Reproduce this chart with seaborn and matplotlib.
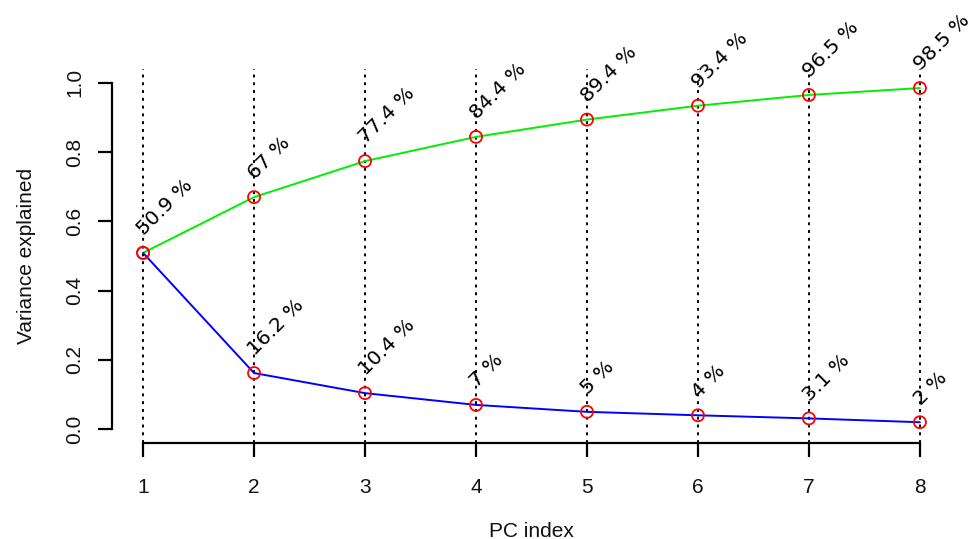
import numpy as np
import pandas as pd
import matplotlib
matplotlib.use("Agg")
import matplotlib.pyplot as plt
import seaborn as sns

## values
pc_index = [1, 2, 3, 4, 5, 6, 7, 8]
individual = [0.509, 0.162, 0.104, 0.070, 0.050, 0.040, 0.031, 0.020]
cumulative = [0.509, 0.670, 0.774, 0.844, 0.894, 0.934, 0.965, 0.985]
ind_labels = ["50.9 %", "16.2 %", "10.4 %", "7 %", "5 %", "4 %", "3.1 %", "2 %"]
cum_labels = ["50.9 %", "67 %", "77.4 %", "84.4 %", "89.4 %", "93.4 %", "96.5 %", "98.5 %"]
y_ticks = [0.0, 0.2, 0.4, 0.6, 0.8, 1.0]

df = pd.DataFrame({"pc": pc_index, "ind": individual, "cum": cumulative})

sns.set_style("white")
plt.rcParams["font.family"] = ["Liberation Sans", "DejaVu Sans"]

fig = plt.figure(figsize=(9.79, 5.39), dpi=100)
ax = fig.add_axes([112 / 979, 1 - 443 / 539, (951 - 112) / 979, (443 - 69) / 539])

# dotted verticals at each PC
for x in pc_index:
    ax.axvline(x, color="black", linestyle=(0, (1.5, 2.5)), linewidth=1.4, zorder=1)

sns.lineplot(data=df, x="pc", y="cum", color="#00ee00", linewidth=1.4, ax=ax, zorder=2)
sns.lineplot(data=df, x="pc", y="ind", color="#0000ff", linewidth=1.4, ax=ax, zorder=2)
for col in ["cum", "ind"]:
    sns.scatterplot(data=df, x="pc", y=col, marker="o", s=75, facecolor="none",
                    edgecolor="red", linewidth=1.3, ax=ax, zorder=3)

# rotated percentage labels (the first one only once)
def put_label(x, y, txt):
    ax.annotate(txt, (x, y), xytext=(1, 12), textcoords="offset points",
                rotation=45, rotation_mode="anchor", ha="left", va="baseline",
                fontsize=14.5, family="DejaVu Sans", color="black")

for i, x in enumerate(pc_index):
    put_label(x, cumulative[i], cum_labels[i])
    if i > 0:
        put_label(x, individual[i], ind_labels[i])

ax.set_xlim(0.72, 8.28)
ax.set_ylim(-0.04, 1.04)
ax.set_xticks(pc_index)
ax.set_yticks(y_ticks)
ax.set_yticklabels([f"{v:.1f}" for v in y_ticks], rotation=90, va="center")

for s in ["top", "right"]:
    ax.spines[s].set_visible(False)
ax.spines["left"].set_bounds(0, 1)
ax.spines["bottom"].set_bounds(1, 8)
for s in ["left", "bottom"]:
    ax.spines[s].set_linewidth(1.6)
    ax.spines[s].set_color("black")

ax.tick_params(axis="both", direction="out", length=10, width=1.6, color="black",
               labelsize=15, labelcolor="#111111", left=True, bottom=True)
ax.tick_params(axis="x", pad=15)
ax.tick_params(axis="y", pad=10)

ax.set_xlabel("PC index", fontsize=15, color="#111111", labelpad=18)
ax.set_ylabel("Variance explained", fontsize=15, color="#111111", labelpad=21)

fig.savefig("out.png", dpi=100)
